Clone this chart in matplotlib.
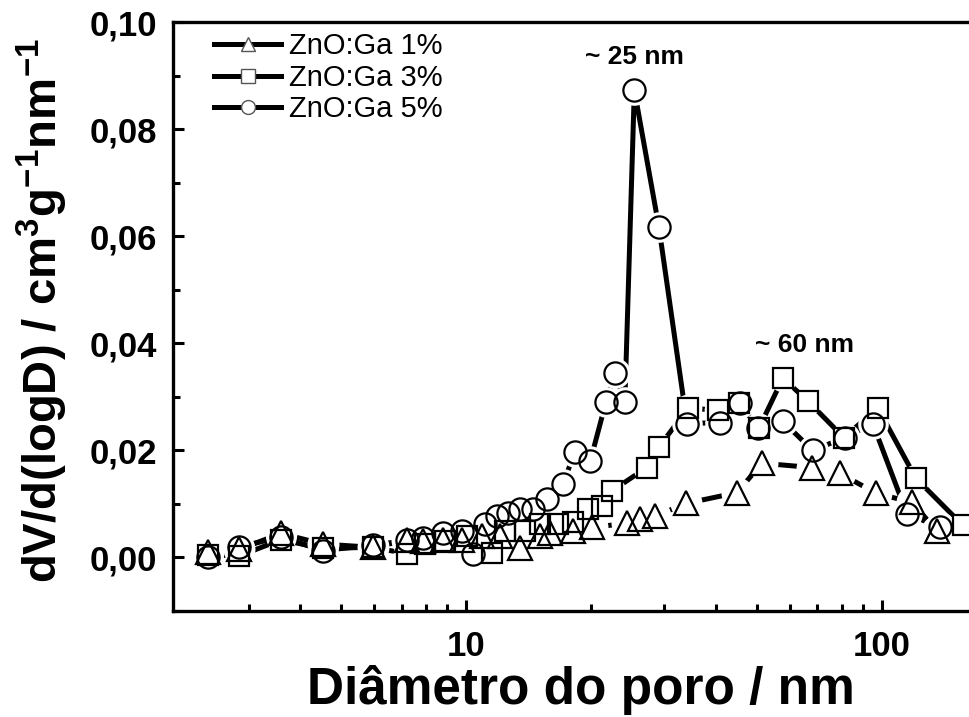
import matplotlib
matplotlib.use('Agg')
import matplotlib.pyplot as plt
from matplotlib.lines import Line2D
from matplotlib.ticker import FixedLocator, FixedFormatter, NullFormatter

plt.rcParams['font.family'] = ['Liberation Sans', 'DejaVu Sans']
plt.rcParams['mathtext.fontset'] = 'custom'
plt.rcParams['mathtext.rm'] = 'Liberation Sans:bold'
plt.rcParams['mathtext.bf'] = 'Liberation Sans:bold'
plt.rcParams['mathtext.default'] = 'bf'

# pore diameter (nm) and dV/d(logD)
d_ga1 = [2.40, 2.85, 3.59, 4.53, 5.97, 7.21, 7.88, 8.81, 9.78, 10.9, 12.07, 13.5, 15.1, 15.9,
         18.1, 20.1, 24.4, 26.2, 28.5, 33.8, 44.8, 51.5, 67.9, 79.3, 96.8, 118.0, 135.6]
v_ga1 = [0.0011, 0.0015, 0.0045, 0.0025, 0.0019, 0.0032, 0.0030, 0.0033, 0.0033, 0.0040,
         0.0040, 0.0017, 0.0040, 0.0045, 0.0050, 0.0056, 0.0064, 0.0071, 0.0077, 0.0101,
         0.0121, 0.0176, 0.0168, 0.0157, 0.0120, 0.0103, 0.0050]

d_ga3 = [2.40, 2.85, 3.59, 4.53, 5.97, 7.21, 7.97, 8.90, 10.06, 11.55, 12.4, 13.9, 15.1, 16.6,
         18.1, 19.6, 21.2, 22.5, 27.2, 29.1, 34.2, 40.4, 45.3, 50.6, 57.8, 66.4, 81.0, 97.8,
         120.7, 156.6]
v_ga3 = [0.0005, 0.0003, 0.0033, 0.0017, 0.0019, 0.0007, 0.0025, 0.0030, 0.0041, 0.0008,
         0.0050, 0.0050, 0.0063, 0.0063, 0.0066, 0.0091, 0.0097, 0.0125, 0.0168, 0.0206,
         0.0279, 0.0275, 0.0288, 0.0241, 0.0335, 0.0292, 0.0224, 0.0279, 0.0148, 0.0060]

d_ga5 = [2.40, 2.85, 3.59, 4.53, 5.97, 7.21, 7.88, 8.81, 9.78, 10.4, 11.1, 11.9, 12.6, 13.5,
         14.5, 15.7, 17.1, 18.3, 19.9, 21.7, 22.8, 24.1, 25.4, 29.1, 34.0, 40.8, 45.6, 50.3,
         57.8, 68.2, 81.5, 95.1, 114.8, 137.8]
v_ga5 = [0.0, 0.0020, 0.0038, 0.0013, 0.0023, 0.0032, 0.0037, 0.0045, 0.0050, 0.0007,
         0.0063, 0.0078, 0.0084, 0.0091, 0.0091, 0.0110, 0.0138, 0.0197, 0.0180, 0.0290,
         0.0344, 0.0290, 0.0873, 0.0617, 0.0250, 0.0252, 0.0288, 0.0241, 0.0254, 0.0200,
         0.0224, 0.0250, 0.0082, 0.0056]

labels = ['ZnO:Ga 1%', 'ZnO:Ga 3%', 'ZnO:Ga 5%']
y_ticks = [0.00, 0.02, 0.04, 0.06, 0.08, 0.10]
y_ticklabels = ['0,00', '0,02', '0,04', '0,06', '0,08', '0,10']

series = [(d_ga1, v_ga1, '^', 17), (d_ga3, v_ga3, 's', 14), (d_ga5, v_ga5, 'o', 16)]

fig = plt.figure(figsize=(9.69, 7.17), dpi=100)
ax = fig.add_axes([0.179, 0.1478, 0.830, 0.8215])

#lines first, then white halos to cut gaps, then hollow symbols on top
for d, v, m, ms in series:
    ax.plot(d, v, '-', color='black', lw=3.6, zorder=2, solid_capstyle='round')
for d, v, m, ms in series:
    ax.plot(d, v, linestyle='none', marker='o', ms=ms + 6, mfc='white', mec='none', zorder=3)
for d, v, m, ms in series:
    ax.plot(d, v, linestyle='none', marker=m, ms=ms, mfc='none', mec='black', mew=1.6, zorder=4)

ax.set_xscale('log')
ax.set_xlim(1.98, 170)
ax.set_ylim(-0.01, 0.10)

ax.xaxis.set_major_locator(FixedLocator([10, 100]))
ax.xaxis.set_major_formatter(FixedFormatter(['10', '100']))
ax.xaxis.set_minor_locator(FixedLocator([3, 4, 5, 6, 7, 8, 9, 20, 30, 40, 50, 60, 70, 80, 90]))
ax.xaxis.set_minor_formatter(NullFormatter())
ax.yaxis.set_major_locator(FixedLocator(y_ticks))
ax.yaxis.set_major_formatter(FixedFormatter(y_ticklabels))
ax.yaxis.set_minor_locator(FixedLocator([-0.01, 0.01, 0.03, 0.05, 0.07, 0.09]))

ax.tick_params(which='both', direction='in', width=2.2, top=False, right=False)
ax.tick_params(which='major', length=8)
ax.tick_params(which='minor', length=5)
ax.tick_params(axis='y', which='major', pad=12)
ax.tick_params(axis='x', which='major', pad=14)
for s in ax.spines.values():
    s.set_linewidth(2.4)

for t in ax.get_yticklabels():
    t.set_fontsize(25)
    t.set_fontweight('bold')
for t in ax.get_xticklabels():
    t.set_fontsize(25)
    t.set_fontweight('bold')

ax.set_xlabel('Diâmetro do poro / nm', fontsize=37, fontweight='bold')
ax.xaxis.set_label_coords(0.5066, -0.134)
ax.set_ylabel('dV/d(logD) / cm$^3$g$^{-1}$nm$^{-1}$', fontsize=34, fontweight='bold')
ax.yaxis.set_label_coords(-0.1635, 0.51)
ax.yaxis.label.set_va('center')
ax.xaxis.label.set_va('center')

ax.text(25.4, 0.0935, '~ 25 nm', fontsize=19, fontweight='bold', ha='center', va='center')
ax.text(65, 0.0396, '~ 60 nm', fontsize=19, fontweight='bold', ha='center', va='center')

handles = [Line2D([], [], color='black', lw=3.6, marker=m, ms=10, mfc='white',
                  mec='#555555', mew=1.0) for d, v, m, ms in series]
ax.legend(handles, labels, loc='upper left', bbox_to_anchor=(0.029, 1.012), frameon=False,
          fontsize=21, handlelength=2.3, handletextpad=0.25, labelspacing=0.12, borderaxespad=0.2)

fig.savefig('out.png', dpi=100)
